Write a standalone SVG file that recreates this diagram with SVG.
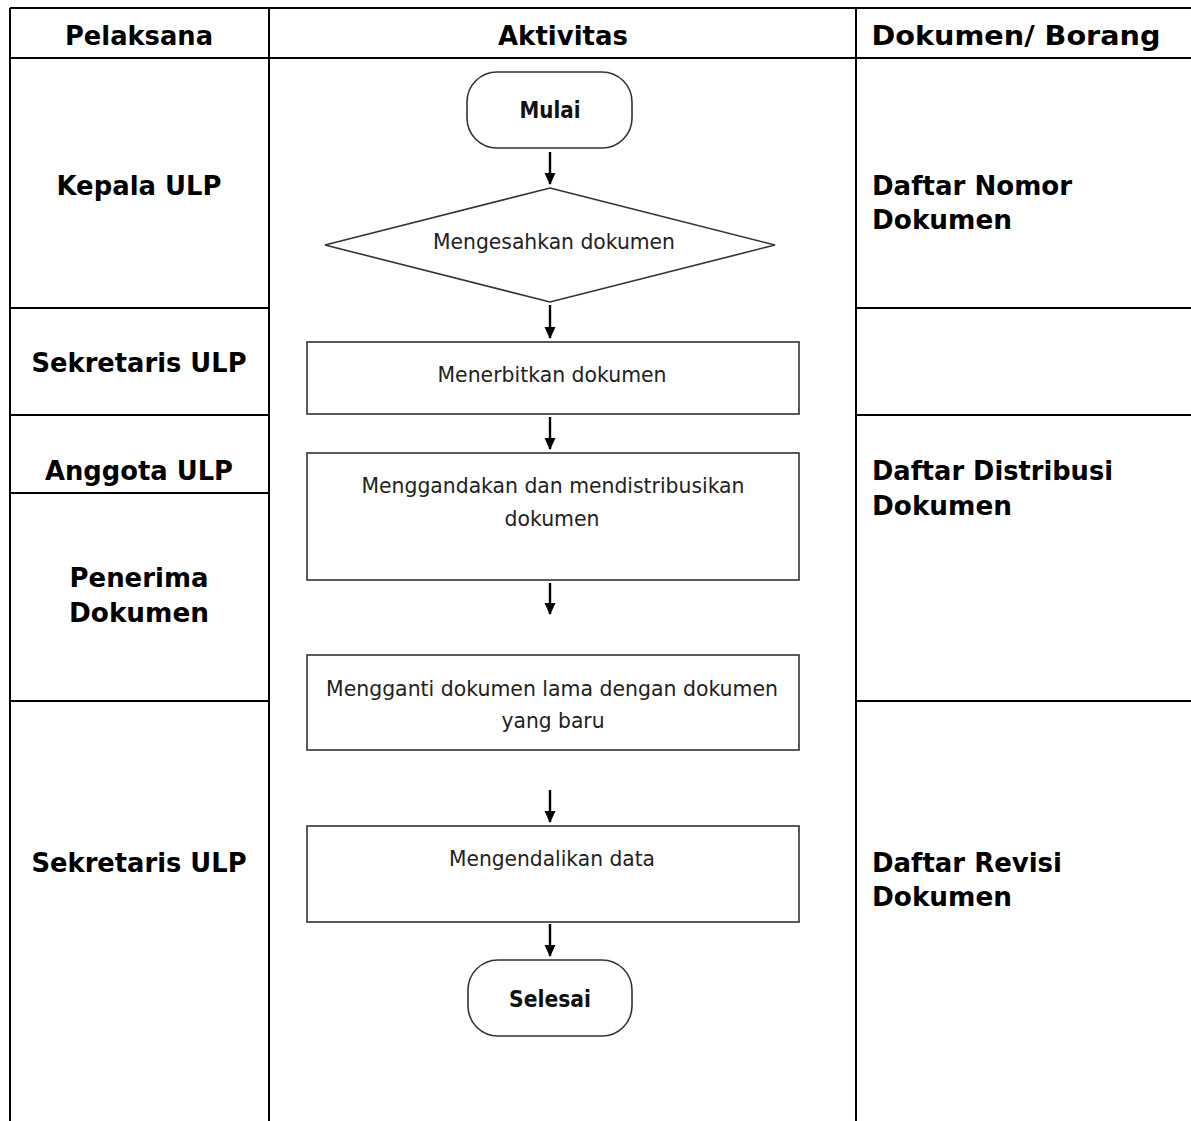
<svg xmlns="http://www.w3.org/2000/svg" width="1191" height="1121" viewBox="0 0 1191 1121">
<style>
.grid{stroke:#000;stroke-width:2;fill:none}
.hd{font-family:"DejaVu Sans","Verdana",sans-serif;font-weight:bold;font-size:26px;fill:#000}
.lb{font-family:"DejaVu Sans","Verdana",sans-serif;font-weight:bold;font-size:26px;fill:#000}
.shape{fill:#fff;stroke:#333;stroke-width:1.6}
.tx{font-family:"DejaVu Sans","Verdana",sans-serif;font-size:22px;fill:#222;text-anchor:middle}
.tb{font-family:"DejaVu Sans","Verdana",sans-serif;font-size:23px;font-weight:bold;fill:#111;text-anchor:middle}
.conn{stroke:#000;stroke-width:2.4;fill:none;marker-end:url(#ah)}
</style>
<defs>
<marker id="ah" markerWidth="12" markerHeight="12" refX="11" refY="6" orient="auto" markerUnits="userSpaceOnUse">
<path d="M0,0.5 L12,6 L0,11.5 Z" fill="#000"/>
</marker>
</defs>
<rect width="1191" height="1121" fill="#fff"/>
<g id="table">
<line class="grid" x1="10" y1="8" x2="1191" y2="8"/>
<line class="grid" x1="10" y1="58" x2="1191" y2="58"/>
<line class="grid" x1="10" y1="8" x2="10" y2="1121"/>
<line class="grid" x1="269" y1="8" x2="269" y2="1121"/>
<line class="grid" x1="856" y1="8" x2="856" y2="1121"/>
<line class="grid" x1="10" y1="308" x2="269" y2="308"/>
<line class="grid" x1="856" y1="308" x2="1191" y2="308"/>
<line class="grid" x1="10" y1="415" x2="269" y2="415"/>
<line class="grid" x1="856" y1="415" x2="1191" y2="415"/>
<line class="grid" x1="10" y1="493" x2="269" y2="493"/>
<line class="grid" x1="10" y1="701" x2="269" y2="701"/>
<line class="grid" x1="856" y1="701" x2="1191" y2="701"/>
<text class="hd" x="139" y="45" text-anchor="middle" textLength="148" lengthAdjust="spacingAndGlyphs">Pelaksana</text>
<text class="hd" x="563" y="45" text-anchor="middle" textLength="130" lengthAdjust="spacingAndGlyphs">Aktivitas</text>
<text class="hd" x="1016" y="45" text-anchor="middle" textLength="289" lengthAdjust="spacingAndGlyphs">Dokumen/ Borang</text>
</g>
<g id="pelaksana">
<text class="lb" x="139" y="195" text-anchor="middle" textLength="165" lengthAdjust="spacingAndGlyphs">Kepala ULP</text>
<text class="lb" x="139" y="372" text-anchor="middle" textLength="215" lengthAdjust="spacingAndGlyphs">Sekretaris ULP</text>
<text class="lb" x="139" y="480" text-anchor="middle" textLength="188" lengthAdjust="spacingAndGlyphs">Anggota ULP</text>
<text class="lb" x="139" y="587" text-anchor="middle" textLength="139" lengthAdjust="spacingAndGlyphs">Penerima</text>
<text class="lb" x="139" y="622" text-anchor="middle" textLength="140" lengthAdjust="spacingAndGlyphs">Dokumen</text>
<text class="lb" x="139" y="872" text-anchor="middle" textLength="215" lengthAdjust="spacingAndGlyphs">Sekretaris ULP</text>
</g>
<g id="dokumen">
<text class="lb" x="872" y="195" textLength="200" lengthAdjust="spacingAndGlyphs">Daftar Nomor</text>
<text class="lb" x="872" y="229" textLength="140" lengthAdjust="spacingAndGlyphs">Dokumen</text>
<text class="lb" x="872" y="480" textLength="241" lengthAdjust="spacingAndGlyphs">Daftar Distribusi</text>
<text class="lb" x="872" y="515" textLength="140" lengthAdjust="spacingAndGlyphs">Dokumen</text>
<text class="lb" x="872" y="872" textLength="190" lengthAdjust="spacingAndGlyphs">Daftar Revisi</text>
<text class="lb" x="872" y="906" textLength="140" lengthAdjust="spacingAndGlyphs">Dokumen</text>
</g>
<g id="mulai">
<rect class="shape" x="467" y="72" width="165" height="76" rx="30" ry="30"/>
<text class="tb" x="550" y="118" textLength="61" lengthAdjust="spacingAndGlyphs">Mulai</text>
</g>
<g id="mengesahkan">
<polygon class="shape" points="550,188 775,245 550,302 325,245"/>
<text class="tx" x="554" y="249" textLength="242" lengthAdjust="spacingAndGlyphs">Mengesahkan dokumen</text>
</g>
<g id="menerbitkan">
<rect class="shape" x="307" y="342" width="492" height="72"/>
<text class="tx" x="552" y="382" textLength="229" lengthAdjust="spacingAndGlyphs">Menerbitkan dokumen</text>
</g>
<g id="menggandakan">
<rect class="shape" x="307" y="453" width="492" height="127"/>
<text class="tx" x="553" y="493" textLength="383" lengthAdjust="spacingAndGlyphs">Menggandakan dan mendistribusikan</text>
<text class="tx" x="552" y="526" textLength="95" lengthAdjust="spacingAndGlyphs">dokumen</text>
</g>
<g id="mengganti">
<rect class="shape" x="307" y="655" width="492" height="95"/>
<text class="tx" x="552" y="696" textLength="452" lengthAdjust="spacingAndGlyphs">Mengganti dokumen lama dengan dokumen</text>
<text class="tx" x="553" y="728" textLength="103" lengthAdjust="spacingAndGlyphs">yang baru</text>
</g>
<g id="mengendalikan">
<rect class="shape" x="307" y="826" width="492" height="96"/>
<text class="tx" x="552" y="866" textLength="206" lengthAdjust="spacingAndGlyphs">Mengendalikan data</text>
</g>
<g id="selesai">
<rect class="shape" x="468" y="960" width="164" height="76" rx="30" ry="30"/>
<text class="tb" x="550" y="1007" textLength="82" lengthAdjust="spacingAndGlyphs">Selesai</text>
</g>
<g id="connectors">
<line class="conn" x1="550" y1="152" x2="550" y2="184"/>
<line class="conn" x1="550" y1="305" x2="550" y2="338"/>
<line class="conn" x1="550" y1="417" x2="550" y2="449"/>
<line class="conn" x1="550" y1="583" x2="550" y2="614"/>
<line class="conn" x1="550" y1="790" x2="550" y2="822"/>
<line class="conn" x1="550" y1="924" x2="550" y2="956"/>
</g>
</svg>
